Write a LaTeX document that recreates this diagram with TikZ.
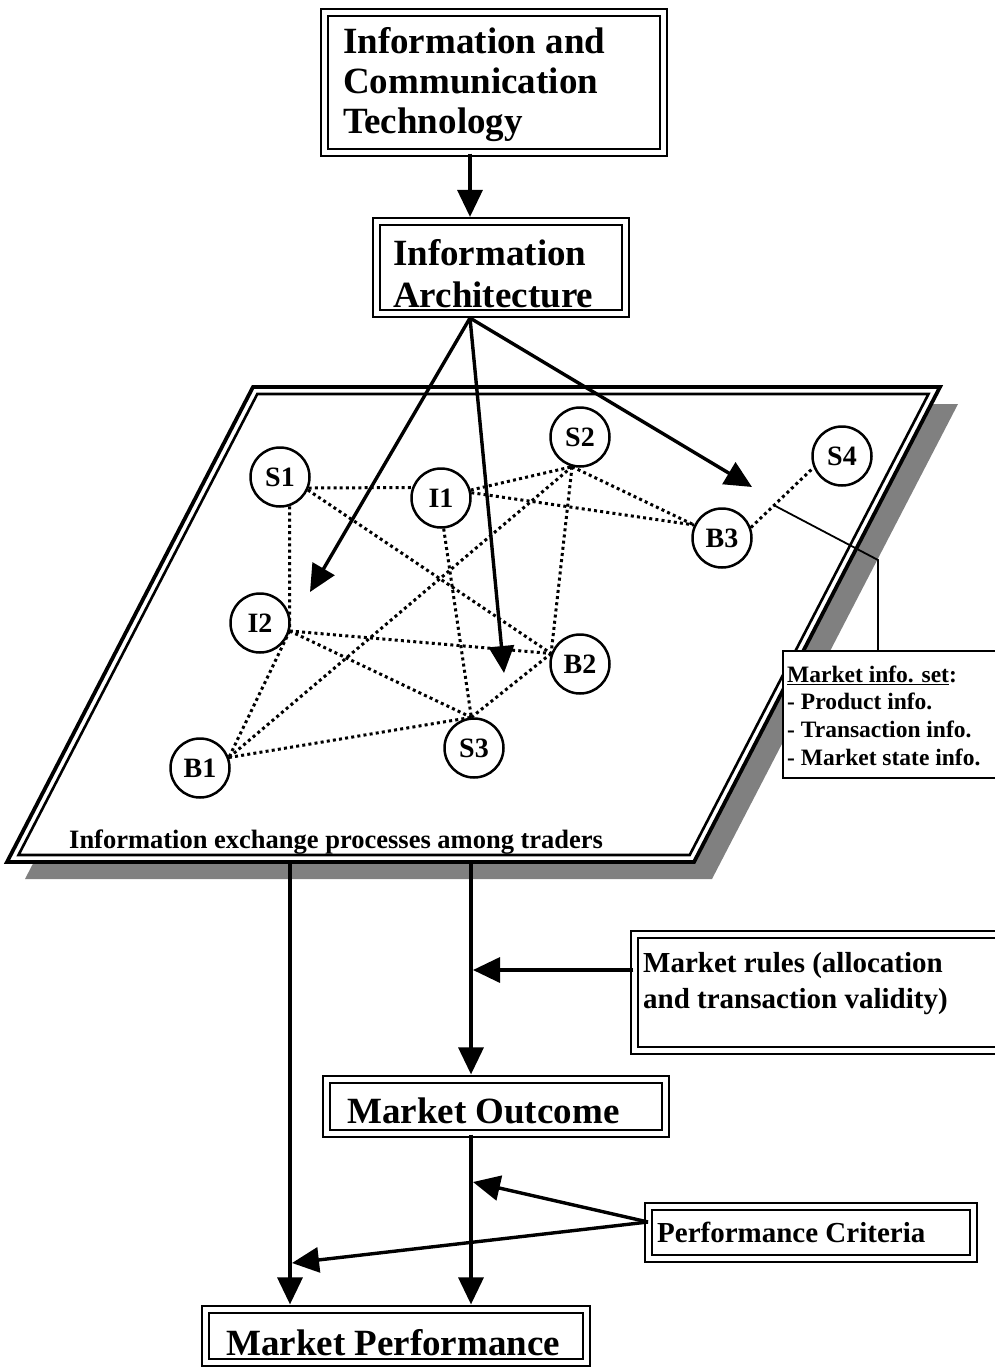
\documentclass[tikz,border=0pt]{standalone}
\usepackage{fontspec}
\setmainfont{Liberation Serif}
\usetikzlibrary{arrows.meta,calc}
\begin{document}
\begin{tikzpicture}[x=1pt,y=-1pt,
  dbox/.style={rectangle, draw, line width=2.2pt, double=white, double distance=4.6pt, fill=white, inner sep=0pt},
  sbox/.style={rectangle, draw, line width=2.2pt, fill=white, inner sep=0pt},
  agent/.style={circle, draw, line width=2.5pt, fill=white, minimum size=59pt, inner sep=0pt, font=\bfseries\fontsize{28}{28}\selectfont},
  link/.style={line width=3pt, dash pattern=on 3pt off 3.2pt},
  arr/.style={line width=3.4pt, -{Triangle[length=27pt,width=25pt]}},
  txt/.style={anchor=base west, inner sep=0pt, font=\bfseries},
  big/.style={font=\bfseries\fontsize{37}{40}\selectfont},
  mid/.style={font=\bfseries\fontsize{29}{36}\selectfont}
]
\clip (0,0) rectangle (995,1368);
% shadow of the plane
\fill[gray] (271,404) -- (958,404) -- (712,879) -- (25,879) -- cycle;
% the plane (double outline)
\filldraw[fill=white, line width=3.8pt] (253,387) -- (940,387) -- (694,862) -- (7,862) -- cycle;
\draw[line width=2.6pt] (257.3,394) -- (928.5,394) -- (689.7,855) -- (18.5,855) -- cycle;

% boxes
\node[dbox, minimum width=339pt, minimum height=140pt] (ict) at (494,82.5) {};
\node[dbox, minimum width=249pt, minimum height=92pt] (ia) at (501,267.5) {};
\node[dbox, minimum width=376pt, minimum height=116pt] (mr) at (822.5,992.5) {};
\node[dbox, minimum width=339pt, minimum height=54pt] (mo) at (496,1106.5) {};
\node[dbox, minimum width=325pt, minimum height=52pt] (pc) at (811,1232.5) {};
\node[dbox, minimum width=381pt, minimum height=53pt] (mp) at (396,1336) {};

% traders
\node[agent] (S1) at (280,477) {S1};
\node[agent] (I1) at (441,498) {I1};
\node[agent] (S2) at (580,437) {S2};
\node[agent] (S4) at (842,456) {S4};
\node[agent] (B3) at (722,538) {B3};
\node[agent] (I2) at (260,623) {I2};
\node[agent] (B2) at (580,664) {B2};
\node[agent] (S3) at (474,748) {S3};
\node[agent] (B1) at (200,768) {B1};

% dotted links
\draw[link] (S1.-21) -- (I1.160);
\draw[link] (S1.-72) -- (I2.-15);
\draw[link] (S1.-25) -- (B2.160);
\draw[link] (I1.15) -- (S2.-105);
\draw[link] (I1.10) -- (B3.155);
\draw[link] (S2.-105) -- (B3.155);
\draw[link] (S2.-105) -- (B2.160);
\draw[link] (S2.-105) -- (B1.20);
\draw[link] (I1.-85) -- (S3.95);
\draw[link] (I2.-15) -- (B2.160);
\draw[link] (I2.-15) -- (S3.95);
\draw[link] (I2.-15) -- (B1.20);
\draw[link] (B1.20) -- (S3.95);
\draw[link] (S3.95) -- (B2.160);
\draw[link] (B3.20) -- (S4.-158);

% arrows
\coordinate (x470) at (470,0);
\coordinate (iab) at (470,318);
\coordinate (tipL) at (310,592);
\coordinate (tipM) at (504,673);
\coordinate (tipR) at (752,487);
\draw[arr, shorten >=3.5pt] (ict.south -| x470) -- (ia.north -| x470);
\draw[arr] (iab) -- (tipL);
\draw[arr] (iab) -- (tipM);
\draw[arr] (iab) -- (tipR);

\coordinate (pbL) at (290,862);
\coordinate (pbM) at (471,862);
\coordinate (mrhit) at (473,970);
\coordinate (pcsrc) at (648,1222);
\coordinate (pcU) at (473,1182);
\coordinate (pcL) at (292,1263);
\draw[arr, shorten >=4pt] (pbL) -- (pbL |- mp.north);
\draw[arr, shorten >=4pt] (pbM) -- (pbM |- mo.north);
\draw[arr, shorten >=4pt] (mo.south -| pbM) -- (pbM |- mp.north);
\draw[arr] (mr.west |- mrhit) -- (mrhit);
\draw[arr] (pcsrc) -- (pcU);
\draw[arr] (pcsrc) -- (pcL);

% market info set box and leader
\node[sbox, minimum width=227pt, minimum height=127pt] (info) at (896.5,714.5) {};
\coordinate (lead) at ($(B3.20)!0.37!(S4.-158)$);
\coordinate (bend) at (878,560);
\draw[line width=1.8pt] (lead) -- (bend) -- (bend |- info.north);

% texts
\node[txt, big] (ictT) at (343,53) {\parbox[t]{320pt}{Information and\\Communication\\Technology}};
\node[txt, font=\bfseries\fontsize{37}{42}\selectfont] (iaT) at (393,265) {\parbox[t]{240pt}{Information\\Architecture}};
\node[txt, font=\bfseries\fontsize{26.5}{30}\selectfont] (procT) at (69,848) {Information exchange processes among traders};
\node[txt, font=\bfseries\fontsize{23.5}{27.7}\selectfont] (infoT) at (787,682) {\parbox[t]{205pt}{\underline{Market info. set}:\\- Product info.\\- Transaction info.\\- Market state info.}};
\node[txt, mid] (mrT) at (643,972) {\parbox[t]{345pt}{Market rules (allocation\\and transaction validity)}};
\node[txt, big] (moT) at (347,1123) {Market Outcome};
\node[txt, mid] (pcT) at (657,1242) {Performance Criteria};
\node[txt, big] (mpT) at (226,1355) {Market Performance};
\end{tikzpicture}
\end{document}
